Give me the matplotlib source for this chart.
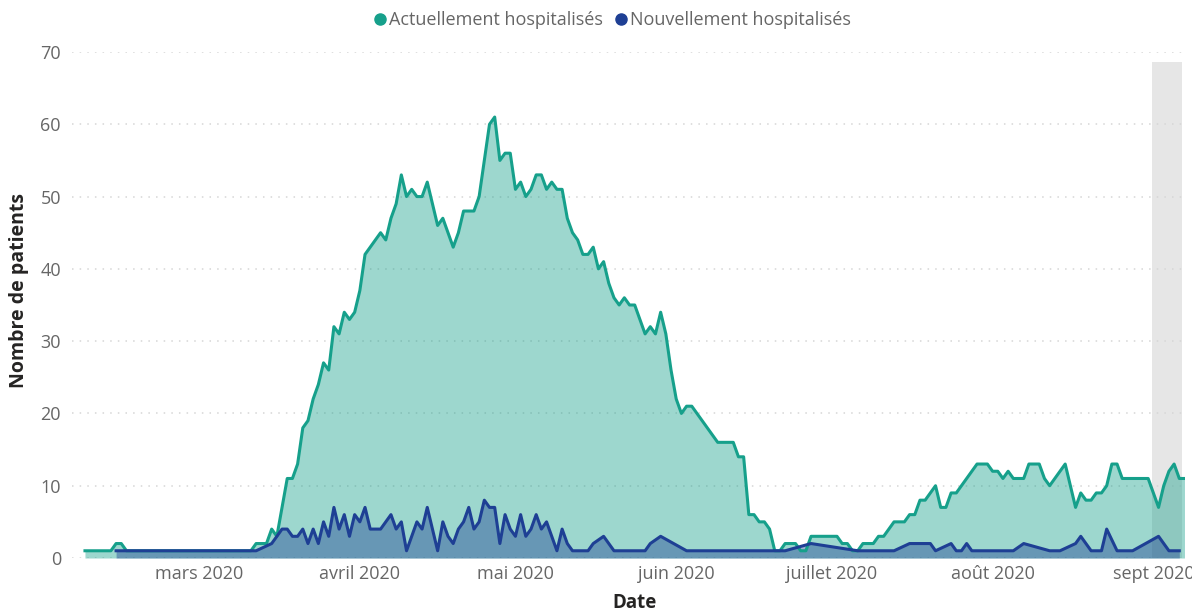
import matplotlib
matplotlib.use("Agg")
import matplotlib.pyplot as plt
import matplotlib.dates as mdates
from matplotlib.lines import Line2D
import pandas as pd

# ---------------- data ----------------
series_names = ["Actuellement hospitalisés", "Nouvellement hospitalisés"]

teal_start = "2020-02-08"
teal_values = [
    1, 1, 1, 1, 1, 1, 2, 2,                                   # Feb 8 - Feb 15
    1, 1, 1, 1, 1, 1, 1, 1, 1, 1, 1, 1, 1, 1,                 # Feb 16 - Feb 29
    1, 1, 1, 1, 1, 1, 1, 1, 1, 1, 1,                          # Mar 1 - Mar 11
    2, 2, 2, 4, 3, 7, 11, 11, 13, 18, 19, 22, 24, 27, 26, 32, 31, 34, 33, 34,  # Mar 12 - Mar 31
    37, 42, 43, 44, 45, 44, 47, 49, 53, 50, 51, 50, 50, 52, 49, 46, 47, 45, 43, 45,
    48, 48, 48, 50, 55, 60, 61, 55, 56, 56,                   # Apr
    51, 52, 50, 51, 53, 53, 51, 52, 51, 51, 47, 45, 44, 42, 42, 43, 40, 41, 38, 36,
    35, 36, 35, 35, 33, 31, 32, 31, 34, 31, 26,               # May
    22, 20, 21, 21, 20, 19, 18, 17, 16, 16, 16, 16, 14, 14, 6, 6, 5, 5, 4, 1,
    1, 2, 2, 2, 1, 1, 3, 3, 3, 3,                             # Jun
    3, 3, 2, 2, 1, 1, 2, 2, 2, 3, 3, 4, 5, 5, 5, 6, 6, 8, 8, 9,
    10, 7, 7, 9, 9, 10, 11, 12, 13, 13, 13,                   # Jul
    12, 12, 11, 12, 11, 11, 11, 13, 13, 13, 11, 10, 11, 12, 13, 10, 7, 9, 8, 8,
    9, 9, 10, 13, 13, 11, 11, 11, 11, 11, 11,                 # Aug
    9, 7, 10, 12, 13, 11, 11,                                 # Sep (Aug 31 - Sep 6)
]

blue_dates = [
    "2020-02-14", "2020-03-12", "2020-03-15", "2020-03-17", "2020-03-18", "2020-03-19",
    "2020-03-20", "2020-03-21", "2020-03-22", "2020-03-23", "2020-03-24", "2020-03-25",
    "2020-03-26", "2020-03-27", "2020-03-28", "2020-03-29", "2020-03-30", "2020-03-31",
    "2020-04-01", "2020-04-02", "2020-04-03", "2020-04-04", "2020-04-05", "2020-04-07",
    "2020-04-08", "2020-04-09", "2020-04-10", "2020-04-12", "2020-04-13", "2020-04-14",
    "2020-04-16", "2020-04-17", "2020-04-18", "2020-04-19", "2020-04-20", "2020-04-21",
    "2020-04-22", "2020-04-23", "2020-04-24", "2020-04-25", "2020-04-26", "2020-04-27",
    "2020-04-28", "2020-04-29", "2020-04-30", "2020-05-01", "2020-05-02", "2020-05-03",
    "2020-05-04", "2020-05-05", "2020-05-06", "2020-05-07", "2020-05-09", "2020-05-10",
    "2020-05-11", "2020-05-12", "2020-05-15", "2020-05-16", "2020-05-18", "2020-05-20",
    "2020-05-26", "2020-05-27", "2020-05-29", "2020-06-03", "2020-06-22", "2020-06-27",
    "2020-07-06", "2020-07-13", "2020-07-16", "2020-07-20", "2020-07-21", "2020-07-24",
    "2020-07-25", "2020-07-26", "2020-07-27", "2020-07-28", "2020-08-05", "2020-08-07",
    "2020-08-12", "2020-08-14", "2020-08-17", "2020-08-18", "2020-08-20", "2020-08-22",
    "2020-08-23", "2020-08-25", "2020-08-28", "2020-09-02", "2020-09-04", "2020-09-06",
]
blue_values = [
    1, 1, 2, 4, 4, 3,
    3, 4, 2, 4, 2, 5,
    3, 7, 4, 6, 3, 6,
    5, 7, 4, 4, 4, 6,
    4, 5, 1, 5, 4, 7,
    1, 5, 3, 2, 4, 5,
    7, 4, 5, 8, 7, 7,
    2, 6, 4, 3, 6, 3,
    4, 6, 4, 5, 1, 4,
    2, 1, 1, 2, 3, 1,
    1, 2, 3, 1, 1, 2,
    1, 1, 2, 2, 1, 2,
    1, 1, 2, 1, 1, 2,
    1, 1, 2, 3, 1, 1,
    4, 1, 1, 3, 1, 1,
]

month_ticks = ["2020-03-01", "2020-04-01", "2020-05-01", "2020-06-01",
               "2020-07-01", "2020-08-01", "2020-09-01"]
month_labels = ["mars 2020", "avril 2020", "mai 2020", "juin 2020",
                "juillet 2020", "août 2020", "sept 2020"]
y_ticks = [0, 10, 20, 30, 40, 50, 60, 70]
highlight_range = ("2020-08-31 17:00", "2020-09-06 12:00")

# ---------------- style ----------------
TEAL = "#16a08b"
BLUE = "#1e3f94"
TICK_COLOR = "#666666"
TITLE_COLOR = "#252423"
FONT = ["Open Sans", "DejaVu Sans"]
plt.rcParams["font.family"] = FONT

teal_dates = pd.date_range(teal_start, periods=len(teal_values), freq="D")
blue_dt = pd.to_datetime(blue_dates)

fig = plt.figure(figsize=(11.92, 6.12), dpi=100)
ax = fig.add_axes([72 / 1192, 1 - 558 / 612, (1185 - 72) / 1192, (558 - 52) / 612])

# highlight band
ax.axvspan(pd.Timestamp(highlight_range[0]), pd.Timestamp(highlight_range[1]),
           ymin=0, ymax=68.6 / 70, color="#e6e6e6", zorder=0.5, lw=0)

# areas
ax.fill_between(teal_dates, teal_values, 0, color=TEAL, alpha=0.42, lw=0, zorder=1)
ax.fill_between(blue_dt, blue_values, 0, color=BLUE, alpha=0.42, lw=0, zorder=2)
ax.plot(teal_dates, teal_values, color=TEAL, lw=2.2, zorder=3, solid_joinstyle="round")
ax.plot(blue_dt, blue_values, color=BLUE, lw=2.2, zorder=4, solid_joinstyle="round")

# axes
d0 = pd.Timestamp("2020-03-01")
ax.set_xlim(d0 - pd.Timedelta(days=24.5), d0 + pd.Timedelta(days=190.1))
ax.set_ylim(0, 70)
ax.set_xticks(pd.to_datetime(month_ticks))
ax.set_xticklabels(month_labels)
ax.set_yticks(y_ticks)
ax.tick_params(axis="both", length=0, labelsize=13, labelcolor=TICK_COLOR)
ax.tick_params(axis="x", pad=5)
ax.tick_params(axis="y", pad=8)
for s in ax.spines.values():
    s.set_visible(False)
ax.grid(axis="y", color="#d6d6d6", lw=1.1, linestyle=(0, (1, 4)), zorder=0)
ax.set_axisbelow(True)

fig.text(634 / 1192, 1 - 603 / 612, "Date", ha="center", va="center",
         fontsize=13.5, fontweight="bold", color=TITLE_COLOR)
fig.text(19 / 1192, 1 - 290 / 612, "Nombre de patients", ha="center", va="center",
         rotation=90, fontsize=14, fontweight="bold", color=TITLE_COLOR)

handles = [Line2D([], [], ls="none", marker="o", markersize=8, color=TEAL),
           Line2D([], [], ls="none", marker="o", markersize=8, color=BLUE)]
leg = fig.legend(handles, series_names, loc="center", ncol=2,
                 bbox_to_anchor=(611 / 1192, 1 - 20 / 612), frameon=False,
                 fontsize=13, handletextpad=0.0, columnspacing=0.5,
                 handlelength=1.0, borderaxespad=0)
for t in leg.get_texts():
    t.set_color(TICK_COLOR)

fig.savefig("out.png", dpi=100)
